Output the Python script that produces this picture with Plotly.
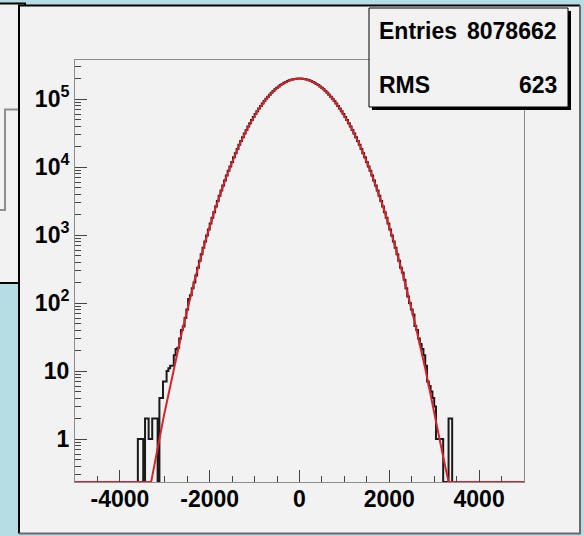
import numpy as np
import plotly.graph_objects as go

# ---------------- data ----------------
HIST_XMIN = -5000
HIST_XMAX = 5000
BIN_WIDTH = 40
FIRST_FILLED_EDGE = -3600  # left edge of the first bin listed below

# bin contents, left tail (edges -3600 ... -2240)
COUNTS_LEFT_TAIL = [1, 1, 1, 0, 2, 2, 1, 1, 2, 2, 2, 0, 4, 4, 7, 7, 10, 11, 12, 12,
                    17, 21, 22, 30, 40, 45, 60, 80, 115, 130, 165, 200, 255, 330]
# bin contents, core (edges -2240 ... 2240)
COUNTS_CORE = [418, 522, 648, 801, 982, 1210, 1480, 1790, 2170, 2630, 3160, 3790, 4520,
               5370, 6360, 7480, 8780, 10200, 11900, 13900, 16000, 18400, 21200, 24100,
               27400, 31000, 35000, 39300, 44000, 49000, 54300, 60100, 66200, 72500,
               79200, 86200, 93400, 100800, 108300, 115900, 123500, 131300, 138800,
               146200, 153400, 160400, 166900, 173100, 178700, 183800, 188200, 192000,
               195200, 197500, 199000, 199900,
               199900, 199000, 197500, 195200, 192000, 188200, 183800, 178700, 173100,
               166900, 160400, 153400, 146200, 138800, 131300, 123500, 115900, 108300,
               100800, 93400, 86200, 79200, 72500, 66200, 60100, 54300, 49000, 44000,
               39300, 35000, 31000, 27400, 24100, 21200, 18400, 16000, 13900, 11900,
               10200, 8780, 7480, 6360, 5370, 4520, 3790, 3160, 2630, 2170, 1790, 1480,
               1210, 982, 801, 648, 522, 418]
# bin contents, right tail (edges 2240 ... 3400)
COUNTS_RIGHT_TAIL = [330, 280, 220, 165, 125, 100, 80, 68, 46, 40, 30, 25, 21, 17, 12,
                     7, 6, 5, 4, 3, 1, 1, 1, 1, 0, 0, 0, 2, 2]

# gaussian fit parameters
FIT_CONSTANT = 2.0e5
FIT_MEAN = 0.0
FIT_SIGMA = 632.0

ENTRIES = 8078662
RMS = 623

X_TICKVALS = [-4000, -2000, 0, 2000, 4000]
X_TICKTEXT = ["-4000", "-2000", "0", "2000", "4000"]
Y_TICKVALS = [1, 10, 100, 1000, 10000, 100000]
Y_TICKTEXT = ["1", "10", "10<sup>2</sup>", "10<sup>3</sup>", "10<sup>4</sup>", "10<sup>5</sup>"]

# ---------------- geometry ----------------
W, H = 584, 536
PL, PR, PT, PB = 75, 524, 60, 482
YLOG_RANGE = [-0.632, 5.574]
YMIN = 10 ** YLOG_RANGE[0]


def px(xp):
    return (xp - PL) / (PR - PL)


def py(yp):
    return (PB - yp) / (PB - PT)


# ---------------- histogram ----------------
nbins = (HIST_XMAX - HIST_XMIN) // BIN_WIDTH
counts = np.zeros(nbins)
filled = COUNTS_LEFT_TAIL + COUNTS_CORE + COUNTS_RIGHT_TAIL
i0 = (FIRST_FILLED_EDGE - HIST_XMIN) // BIN_WIDTH
counts[i0:i0 + len(filled)] = filled
edges = HIST_XMIN + BIN_WIDTH * np.arange(nbins + 1)
y_draw = np.maximum(counts, YMIN)
y_step = np.append(y_draw, y_draw[-1])

xf = np.linspace(HIST_XMIN, HIST_XMAX, 2001)
yf = FIT_CONSTANT * np.exp(-0.5 * ((xf - FIT_MEAN) / FIT_SIGMA) ** 2)
yf = np.maximum(yf, YMIN)

fig = go.Figure()
fig.add_trace(go.Scatter(x=edges, y=y_step, mode="lines", line_shape="hv",
                         line=dict(color="#1a1a1a", width=2), hoverinfo="skip",
                         showlegend=False))
fig.add_trace(go.Scatter(x=xf, y=yf, mode="lines",
                         line=dict(color="#d8232c", width=2), hoverinfo="skip",
                         showlegend=False))

FONT = "Liberation Sans, Arial, Helvetica, sans-serif"
FSIZE = 23
TICKC = "#444444"

y_minor = []
for e in range(-1, 6):
    for m in range(2, 10):
        v = m * 10 ** e
        if YLOG_RANGE[0] <= np.log10(v) <= YLOG_RANGE[1]:
            y_minor.append(v)

fig.update_layout(
    width=W, height=H,
    margin=dict(l=PL, r=W - PR, t=PT, b=H - PB, pad=0),
    paper_bgcolor="#b5dde3",
    plot_bgcolor="rgba(0,0,0,0)",
    showlegend=False,
    xaxis=dict(
        range=[HIST_XMIN, HIST_XMAX], tickmode="array",
        tickvals=X_TICKVALS, ticktext=X_TICKTEXT,
        ticks="inside", ticklen=12, tickwidth=1, tickcolor=TICKC,
        showline=True, mirror=True, linecolor="#8c8c8c", linewidth=1,
        showgrid=False, zeroline=False, ticklabelstandoff=-4,
        tickfont=dict(family=FONT, size=FSIZE, color="black", weight="bold"),
        minor=dict(tickmode="linear", tick0=0, dtick=500, ticks="inside",
                   ticklen=6, tickwidth=1, tickcolor=TICKC, showgrid=False),
    ),
    yaxis=dict(
        type="log", range=YLOG_RANGE, tickmode="array",
        tickvals=Y_TICKVALS, ticktext=Y_TICKTEXT,
        ticks="inside", ticklen=12, tickwidth=1, tickcolor=TICKC,
        showline=True, mirror=True, linecolor="#8c8c8c", linewidth=1,
        showgrid=False, zeroline=False,
        tickfont=dict(family=FONT, size=FSIZE, color="black", weight="bold"),
        minor=dict(tickmode="array", tickvals=y_minor, ticks="inside",
                   ticklen=6, tickwidth=1, tickcolor=TICKC, showgrid=False),
    ),
)

shapes = []
# neighbouring (cut-off) pad on the left
shapes.append(dict(type="rect", xref="paper", yref="paper", layer="below",
                   x0=px(-6), x1=px(25), y0=py(283), y1=py(3.5),
                   fillcolor="#f2f2f2", line=dict(color="black", width=2)))
shapes.append(dict(type="path", xref="paper", yref="paper", layer="below",
                   path="M %f %f L %f %f L %f %f L %f %f" % (
                       px(19), py(109.5), px(5), py(109.5), px(5), py(210), px(-2), py(210)),
                   line=dict(color="#8f8f8f", width=2)))
# main pad
shapes.append(dict(type="rect", xref="paper", yref="paper", layer="below",
                   x0=px(19), x1=px(580), y0=py(533.5), y1=py(5.5),
                   fillcolor="#f2f2f2", line=dict(width=0)))
shapes.append(dict(type="path", xref="paper", yref="paper", layer="below",
                   path="M %f %f L %f %f L %f %f" % (
                       px(19), py(533.5), px(19), py(5.5), px(580), py(5.5)),
                   line=dict(color="black", width=2)))
shapes.append(dict(type="path", xref="paper", yref="paper", layer="below",
                   path="M %f %f L %f %f L %f %f" % (
                       px(580), py(5.5), px(580), py(533.5), px(19), py(533.5)),
                   line=dict(color="#6a6a6a", width=2)))
# stats box with shadow
shapes.append(dict(type="rect", xref="paper", yref="paper", layer="above",
                   x0=px(372), x1=px(571), y0=py(110), y1=py(11),
                   fillcolor="black", line=dict(width=0)))
shapes.append(dict(type="rect", xref="paper", yref="paper", layer="above",
                   x0=px(369), x1=px(568), y0=py(107), y1=py(8),
                   fillcolor="#f2f2f2", line=dict(color="black", width=1)))
fig.update_layout(shapes=shapes)

ann_font = dict(family=FONT, size=FSIZE, color="black", weight="bold")
annotations = [
    dict(text="Entries", x=px(377), y=py(31), xanchor="left", yanchor="middle"),
    dict(text="%d" % ENTRIES, x=px(559), y=py(31), xanchor="right", yanchor="middle"),
    dict(text="RMS", x=px(377), y=py(85), xanchor="left", yanchor="middle"),
    dict(text="%d" % RMS, x=px(559), y=py(85), xanchor="right", yanchor="middle"),
]
for a in annotations:
    a.update(xref="paper", yref="paper", showarrow=False, font=ann_font)
fig.update_layout(annotations=annotations)

fig.write_html("out.html")
